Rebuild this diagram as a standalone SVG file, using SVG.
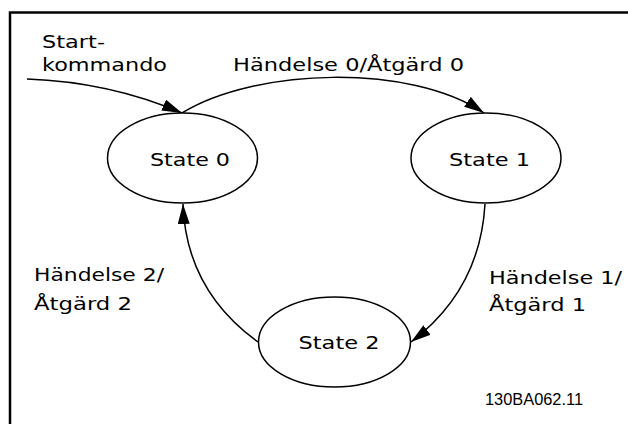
<svg xmlns="http://www.w3.org/2000/svg" width="628" height="424" viewBox="0 0 628 424">
<style>
.frame{fill:none;stroke:#000;stroke-width:2.5}
.node{fill:#fff;stroke:#000;stroke-width:1.5}
.edge{fill:none;stroke:#000;stroke-width:1.5}
.lbl{font-family:"DejaVu Sans","Verdana",sans-serif;font-size:18px;fill:#000}
.code{font-family:"Liberation Sans",Arial,sans-serif;font-size:16px;fill:#000}
</style>
<defs>
<marker id="arr" markerUnits="userSpaceOnUse" markerWidth="22" markerHeight="13" refX="20" refY="6" orient="auto">
<path d="M0,0 L20,6 L0,12 z" fill="#000"/>
</marker>
</defs>
<rect width="628" height="424" fill="#fff"/>
<path class="frame" d="M10,424 V12.5 H628"/>
<g id="connectors">
<path class="edge" d="M27,79 Q110,82 182,113" marker-end="url(#arr)"/>
<path class="edge" d="M182,113 C255,68 410,63 484,113" marker-end="url(#arr)"/>
<path class="edge" d="M485,204 Q480,290 411,342" marker-end="url(#arr)"/>
<path class="edge" d="M258,342 Q186,290 183,204" marker-end="url(#arr)"/>
</g>
<g id="state0">
<ellipse class="node" cx="182.5" cy="158" rx="75" ry="45"/>
<text class="lbl" x="150" y="166" textLength="80" lengthAdjust="spacingAndGlyphs">State 0</text>
</g>
<g id="state1">
<ellipse class="node" cx="486" cy="158" rx="75" ry="45"/>
<text class="lbl" x="449" y="166" textLength="81" lengthAdjust="spacingAndGlyphs">State 1</text>
</g>
<g id="state2">
<ellipse class="node" cx="334.5" cy="342" rx="76" ry="45"/>
<text class="lbl" x="298.5" y="349" textLength="81" lengthAdjust="spacingAndGlyphs">State 2</text>
</g>
<g id="labels">
<text class="lbl" x="42" y="48" textLength="63" lengthAdjust="spacingAndGlyphs">Start-</text>
<text class="lbl" x="42" y="71" textLength="125" lengthAdjust="spacingAndGlyphs">kommando</text>
<text class="lbl" x="233" y="71" textLength="231" lengthAdjust="spacingAndGlyphs">Händelse 0/Åtgärd 0</text>
<text class="lbl" x="34" y="281" textLength="130" lengthAdjust="spacingAndGlyphs">Händelse 2/</text>
<text class="lbl" x="34" y="310" textLength="98" lengthAdjust="spacingAndGlyphs">Åtgärd 2</text>
<text class="lbl" x="489" y="284" textLength="133" lengthAdjust="spacingAndGlyphs">Händelse 1/</text>
<text class="lbl" x="489" y="311" textLength="97" lengthAdjust="spacingAndGlyphs">Åtgärd 1</text>
<text class="code" x="485" y="405" textLength="98" lengthAdjust="spacingAndGlyphs">130BA062.11</text>
</g>
</svg>
